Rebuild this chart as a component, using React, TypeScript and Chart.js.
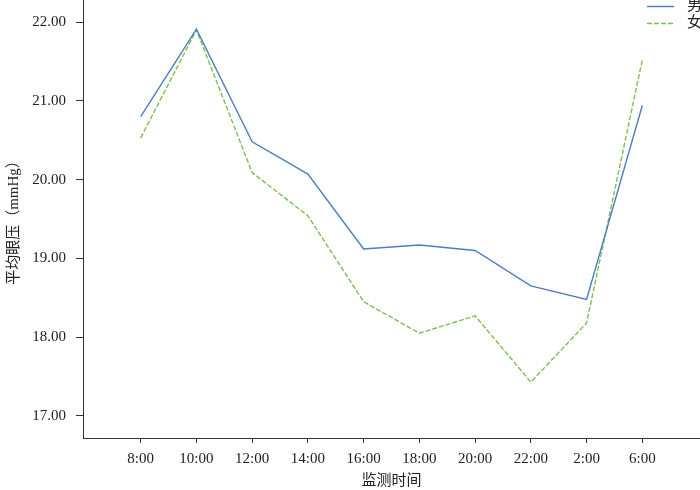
import React, { useEffect, useRef } from "react";
import { Chart, registerables } from "chart.js";

Chart.register(...registerables);

const categories = ["8:00", "10:00", "12:00", "14:00", "16:00", "18:00", "20:00", "22:00", "2:00", "6:00"];
const maleValues = [20.8, 21.91, 20.48, 20.07, 19.12, 19.17, 19.1, 18.65, 18.48, 20.94];
const femaleValues = [20.53, 21.9, 20.09, 19.54, 18.45, 18.05, 18.27, 17.43, 18.18, 21.52];
const yTickValues = [17, 18, 19, 20, 21, 22];
const seriesNames = ["男", "女"];
const xTitle = "监测时间";
const yTitle = "平均眼压（mmHg）";

const FONT = '"Liberation Serif", "Noto Sans CJK SC", serif';
const AXIS_COLOR = "#333333";
const TEXT_COLOR = "#222222";
const BLUE = "#4a7ec1";
const GREEN = "#7dbf55";

const cornerLegend = {
  id: "cornerLegend",
  afterDraw(chart: any) {
    const ctx = chart.ctx;
    chart.data.datasets.forEach((ds: any, i: number) => {
      const y = 6.5 + i * 17;
      ctx.save();
      ctx.strokeStyle = ds.borderColor;
      ctx.lineWidth = 1.4;
      ctx.setLineDash(ds.borderDash || []);
      ctx.beginPath();
      ctx.moveTo(647, y);
      ctx.lineTo(674, y);
      ctx.stroke();
      ctx.setLineDash([]);
      ctx.fillStyle = TEXT_COLOR;
      ctx.font = `15px ${FONT}`;
      ctx.textBaseline = "middle";
      ctx.textAlign = "left";
      ctx.fillText(ds.label, 687, y);
      ctx.restore();
    });
  },
};

export default function App() {
  const ref = useRef<HTMLCanvasElement | null>(null);

  useEffect(() => {
    if (!ref.current) return;
    const chart = new Chart(ref.current, {
      type: "line",
      data: {
        datasets: [
          {
            label: seriesNames[0],
            data: maleValues.map((v, i) => ({ x: i, y: v })),
            borderColor: BLUE,
            borderWidth: 1.4,
            pointRadius: 0,
            tension: 0,
            fill: false,
          },
          {
            label: seriesNames[1],
            data: femaleValues.map((v, i) => ({ x: i, y: v })),
            borderColor: GREEN,
            borderWidth: 1.4,
            borderDash: [5, 2],
            pointRadius: 0,
            tension: 0,
            fill: false,
          },
        ],
      },
      options: {
        animation: false,
        responsive: false,
        devicePixelRatio: 1,
        layout: { padding: 0 },
        plugins: {
          legend: { display: false },
          tooltip: { enabled: false },
          title: { display: false },
        },
        scales: {
          x: {
            type: "linear",
            min: -1.035,
            max: 10.035,
            afterBuildTicks: (s: any) => {
              s.ticks = categories.map((_, i) => ({ value: i }));
            },
            afterFit: (s: any) => {
              s.height = 52;
              s.paddingLeft = 0;
              s.paddingRight = 0;
            },
            ticks: {
              autoSkip: false,
              maxRotation: 0,
              padding: 7,
              color: TEXT_COLOR,
              font: { family: FONT, size: 15 },
              callback: (v: any) => categories[Math.round(Number(v))] ?? "",
            },
            grid: {
              drawOnChartArea: false,
              drawTicks: true,
              tickLength: 5,
              color: AXIS_COLOR,
              lineWidth: 1,
            },
            border: { display: true, color: AXIS_COLOR, width: 1 },
            title: {
              display: true,
              text: xTitle,
              color: TEXT_COLOR,
              font: { family: FONT, size: 15, lineHeight: 17 / 15 },
              padding: 0,
            },
          },
          y: {
            type: "linear",
            min: 16.72,
            max: 22.28,
            afterBuildTicks: (s: any) => {
              s.ticks = yTickValues.map((v) => ({ value: v }));
            },
            afterFit: (s: any) => {
              s.width = 83;
              s.paddingTop = 0;
              s.paddingBottom = 0;
            },
            ticks: {
              padding: 10,
              color: TEXT_COLOR,
              font: { family: FONT, size: 15 },
              callback: (v: any) => Number(v).toFixed(2),
            },
            grid: {
              drawOnChartArea: false,
              drawTicks: true,
              tickLength: 7,
              color: AXIS_COLOR,
              lineWidth: 1,
            },
            border: { display: true, color: AXIS_COLOR, width: 1 },
            title: {
              display: true,
              text: yTitle,
              color: TEXT_COLOR,
              font: { family: FONT, size: 15, lineHeight: 1.2 },
              padding: { top: 5, bottom: 0 },
            },
          },
        },
      },
      plugins: [cornerLegend],
    });
    return () => chart.destroy();
  }, []);

  return (
    <div style={{ position: "absolute", left: 0, top: 0, width: 700, height: 490, background: "#fff" }}>
      <canvas ref={ref} width={700} height={490} style={{ display: "block", width: 700, height: 490 }} />
    </div>
  );
}
